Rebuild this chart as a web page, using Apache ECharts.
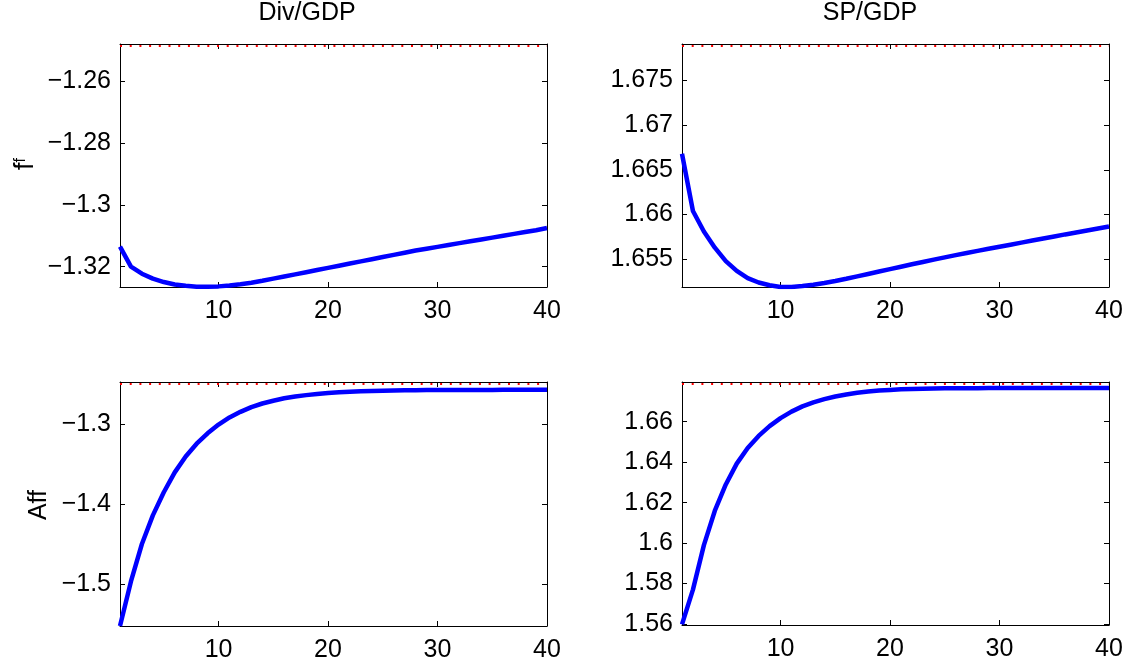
<!DOCTYPE html>
<html>
<head>
<meta charset="utf-8">
<script src="https://cdn.jsdelivr.net/npm/echarts@6/dist/echarts.min.js"></script>
<style>
  html, body { margin: 0; background: #fff; }
  #chart { width: 1131px; height: 667px; }
</style>
</head>
<body>
<div id="chart"></div>
<script>
// horizon (quarters)
const steps = [1, 2, 3, 4, 5, 6, 7, 8, 9, 10, 11, 12, 13, 14, 15, 16, 17, 18, 19, 20,
  21, 22, 23, 24, 25, 26, 27, 28, 29, 30, 31, 32, 33, 34, 35, 36, 37, 38, 39, 40];

// f^f loadings
const divFf = [-1.3135, -1.3200, -1.3223, -1.3239, -1.3250, -1.3258, -1.3262, -1.3265, -1.3265, -1.3264,
  -1.3261, -1.3257, -1.3252, -1.3246, -1.3239, -1.3232, -1.3225, -1.3218, -1.3211, -1.3204,
  -1.3197, -1.3190, -1.3183, -1.3176, -1.3169, -1.3162, -1.3155, -1.3148, -1.3142, -1.3136,
  -1.3130, -1.3124, -1.3118, -1.3112, -1.3106, -1.3100, -1.3094, -1.3088, -1.3082, -1.3075];
const spFf = [1.6668, 1.6604, 1.6581, 1.6563, 1.6548, 1.6537, 1.6529, 1.6524, 1.6521, 1.6519,
  1.6519, 1.6520, 1.65215, 1.65235, 1.65257, 1.65282, 1.65309, 1.65336, 1.65363, 1.65390,
  1.65417, 1.65444, 1.65470, 1.65496, 1.65521, 1.65546, 1.65570, 1.65594, 1.65617, 1.65640,
  1.65663, 1.65686, 1.65709, 1.65732, 1.65755, 1.65778, 1.65800, 1.65822, 1.65844, 1.65866];

// Aff loadings
const divAff = [-1.5530, -1.4970, -1.4500, -1.4140, -1.3850, -1.3600, -1.3400, -1.3240, -1.3110, -1.3000,
  -1.2910, -1.2840, -1.2780, -1.2735, -1.2700, -1.2670, -1.2648, -1.2630, -1.2615, -1.2603,
  -1.2594, -1.2587, -1.2581, -1.2577, -1.2574, -1.2571, -1.2569, -1.2568, -1.2567, -1.2566,
  -1.2565, -1.2565, -1.2564, -1.2564, -1.2564, -1.2563, -1.2563, -1.2563, -1.2563, -1.2563];
const spAff = [1.5598, 1.5770, 1.5990, 1.6160, 1.6290, 1.6393, 1.6470, 1.6530, 1.6578, 1.6618,
  1.6650, 1.6676, 1.6696, 1.6712, 1.6725, 1.6735, 1.6743, 1.6749, 1.6754, 1.6757,
  1.6760, 1.6762, 1.6763, 1.6764, 1.6765, 1.6766, 1.6766, 1.6766, 1.6767, 1.6767,
  1.6767, 1.6767, 1.6767, 1.6767, 1.6767, 1.6767, 1.6767, 1.6767, 1.6767, 1.6767];

// steady state levels (red dotted)
const divSteady = -1.2484;
const spSteady = 1.6789;

// tick labels
const xTicks = [10, 20, 30, 40];
const divFfTicks = [-1.32, -1.30, -1.28, -1.26];
const spFfTicks = [1.655, 1.66, 1.665, 1.67, 1.675];
const divAffTicks = [-1.5, -1.4, -1.3];
const spAffTicks = [1.56, 1.58, 1.60, 1.62, 1.64, 1.66];

const FONT = '"Liberation Sans", Arial, Helvetica, sans-serif';
const FS = 25;

function fmt(v) {
  return String(+v.toFixed(4)).replace('-', '\u2212');
}

const panels = [
  { grid: { left: 120, top: 44, width: 427, height: 243 }, data: divFf, min: -1.3266, max: -1.2479, ticks: divFfTicks, steady: divSteady },
  { grid: { left: 682, top: 44, width: 427, height: 243 }, data: spFf, min: 1.6519, max: 1.67907, ticks: spFfTicks, steady: spSteady },
  { grid: { left: 120, top: 382, width: 427, height: 244 }, data: divAff, min: -1.5530, max: -1.2465, ticks: divAffTicks, steady: divSteady },
  { grid: { left: 682, top: 382, width: 427, height: 243 }, data: spAff, min: 1.5595, max: 1.67964, ticks: spAffTicks, steady: spSteady }
];

const black = { color: '#000', width: 1 };
const grids = [], xAxes = [], yAxes = [], series = [];

panels.forEach((p, i) => {
  grids.push(Object.assign({ containLabel: false }, p.grid));
  ['bottom', 'top'].forEach(pos => {
    xAxes.push({
      gridIndex: i, type: 'value', min: 1, max: 40, position: pos,
      axisLine: { show: true, onZero: false, lineStyle: black },
      axisTick: { show: true, inside: true, length: 5, customValues: xTicks, lineStyle: black },
      axisLabel: {
        show: pos === 'bottom', customValues: xTicks, color: '#000',
        fontFamily: FONT, fontSize: FS, margin: 12
      },
      splitLine: { show: false }
    });
  });
  ['left', 'right'].forEach(pos => {
    yAxes.push({
      gridIndex: i, type: 'value', min: p.min, max: p.max, position: pos,
      axisLine: { show: true, onZero: false, lineStyle: black },
      axisTick: { show: true, inside: true, length: 5, customValues: p.ticks, lineStyle: black },
      axisLabel: {
        show: pos === 'left', customValues: p.ticks, color: '#000',
        fontFamily: FONT, fontSize: FS, margin: 9, formatter: fmt
      },
      splitLine: { show: false }
    });
  });
  series.push({
    type: 'line',
    xAxisIndex: i * 2, yAxisIndex: i * 2,
    data: steps.map((s, k) => [s, p.data[k]]),
    showSymbol: false,
    clip: true,
    lineStyle: { color: '#0000ff', width: 4.5 },
    markLine: {
      silent: true, symbol: 'none', precision: 6, label: { show: false },
      lineStyle: { color: '#ff0000', width: 2, type: [2, 7.7] },
      data: [{ yAxis: p.steady }]
    },
    animation: false
  });
});

const chart = echarts.init(document.getElementById('chart'));
chart.setOption({
  backgroundColor: '#fff',
  animation: false,
  grid: grids,
  xAxis: xAxes,
  yAxis: yAxes,
  series: series,
  graphic: [
    { type: 'text', x: 307, y: 13, style: { text: 'Div/GDP', font: FS + 'px ' + FONT, fill: '#000', textAlign: 'center', textVerticalAlign: 'middle' } },
    { type: 'text', x: 870, y: 13, style: { text: 'SP/GDP', font: FS + 'px ' + FONT, fill: '#000', textAlign: 'center', textVerticalAlign: 'middle' } },
    {
      type: 'text', x: 26, y: 164, rotation: Math.PI / 2,
      style: {
        text: '{a|f}{b|f}', fill: '#000', textAlign: 'center', textVerticalAlign: 'middle',
        rich: {
          a: { fontFamily: FONT, fontSize: 27, fill: '#000' },
          b: { fontFamily: FONT, fontSize: 16, fill: '#000', verticalAlign: 'top' }
        }
      }
    },
    { type: 'text', x: 39, y: 505, rotation: Math.PI / 2, style: { text: 'Aff', font: FS + 'px ' + FONT, fill: '#000', textAlign: 'center', textVerticalAlign: 'middle' } }
  ]
});
</script>
</body>
</html>
